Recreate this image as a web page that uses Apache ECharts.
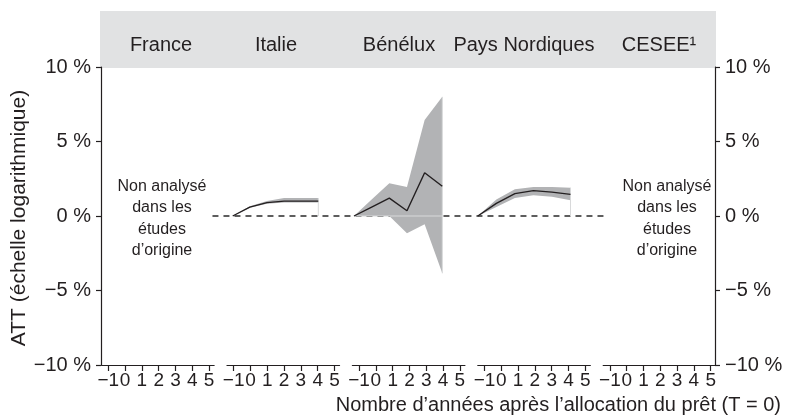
<!DOCTYPE html>
<html>
<head>
<meta charset="utf-8">
<script src="https://cdn.jsdelivr.net/npm/echarts@6/dist/echarts.min.js"></script>
<style>
  html, body { margin: 0; padding: 0; background: #ffffff; }
  #chart { width: 786px; height: 419px; }
</style>
</head>
<body>
<div id="chart"></div>
<script>
// ---- Data -------------------------------------------------------------
const panelNames = ['France', 'Italie', 'Bénélux', 'Pays Nordiques', 'CESEE¹'];
const tickYears = [-1, 0, 1, 2, 3, 4, 5];
const yTicks = [-10, -5, 0, 5, 10];
const years = [-1, 0, 1, 2, 3, 4];

// ATT estimates (%) with confidence band
const italieMean  = [0, 0.6, 0.9, 1.0, 1.0, 1.0];
const italieUpper = [0, 0.65, 1.0, 1.2, 1.2, 1.2];
const italieLower = [0, 0.55, 0.82, 0.9, 0.9, 0.9];

const beneluxMean  = [0, 0.6, 1.2, 0.35, 2.9, 2.0];
const beneluxUpper = [0, 1.1, 2.2, 1.95, 6.45, 8.0];
const beneluxLower = [0, 0, 0, -1.15, -0.55, -3.85];

const nordicMean  = [0, 0.85, 1.5, 1.7, 1.6, 1.45];
const nordicUpper = [0, 1.1, 1.8, 1.95, 1.95, 1.9];
const nordicLower = [0, 0.6, 1.2, 1.4, 1.3, 1.05];

// dashed reference line at 0 %, endpoints as [panel, year]
const zeroLineSpan = [[0, 5.2], [4, -1.3]];

const notAnalysed = 'Non analysé\ndans les\nétudes\nd’origine';
const xTitle = 'Nombre d’années après l’allocation du prêt (T = 0)';
const yTitle = 'ATT (échelle logarithmique)';

// ---- Layout & style ---------------------------------------------------
const FONT = "'Liberation Sans', Arial, Helvetica, sans-serif";
const INK = '#231f20';
const BAND = '#b2b3b5';
const HEADER = '#e1e2e3';
const SEAM = '#d8d9da';

const UNIT = 16.8;          // px per year on the tick axes
const STEP = 125.4;         // px between consecutive panels
const X0 = 108.3;           // px of year -1 in the first panel
const PANEL_MIN = -1.4, PANEL_MAX = 5.3;
const TOP = 67, BOTTOM = 54;
const FRAME_LEFT = 101, FRAME_RIGHT = 715;

const panelLeft = i => X0 - (-1 - PANEL_MIN) * UNIT + i * STEP;
const panelWidth = (PANEL_MAX - PANEL_MIN) * UNIT;

// each estimated panel: its series and the horizontal placement of its points
const estimated = [
  { panel: 1, mean: italieMean,  upper: italieUpper,  lower: italieLower,  firstPx: 232.7, pxPerYear: 17.12 },
  { panel: 2, mean: beneluxMean, upper: beneluxUpper, lower: beneluxLower, firstPx: 354.0, pxPerYear: 17.66 },
  { panel: 3, mean: nordicMean,  upper: nordicUpper,  lower: nordicLower,  firstPx: 477.8, pxPerYear: 18.54 }
];

const pct = v => (v < 0 ? '−' + Math.abs(v) : String(v)) + ' %';
const yearLabel = v => (v < 0 ? '−' + Math.abs(v) : String(v));

// ---- Grids ------------------------------------------------------------
const grids = [];
for (let i = 0; i < 5; i++) {
  grids.push({ left: panelLeft(i), width: panelWidth, top: TOP, bottom: BOTTOM,
               containLabel: false, outerBoundsMode: 'none' });
}
grids.push({ left: FRAME_LEFT, right: 786 - FRAME_RIGHT, top: TOP, bottom: BOTTOM,
             containLabel: false, outerBoundsMode: 'none' });
const FRAME = 5;

// ---- Axes -------------------------------------------------------------
const xAxes = [];
const yAxes = [];
for (let i = 0; i < 5; i++) {
  xAxes.push({
    type: 'value', gridIndex: i, min: PANEL_MIN, max: PANEL_MAX, position: 'bottom',
    axisLine: { show: true, onZero: false, lineStyle: { color: INK, width: 1.2 } },
    axisTick: { show: true, customValues: tickYears, length: 6, lineStyle: { color: INK, width: 1.2 } },
    axisLabel: { show: true, customValues: tickYears, formatter: yearLabel, margin: 6,
                 color: INK, fontSize: 19, fontFamily: FONT },
    splitLine: { show: false }
  });
  yAxes.push({ type: 'value', gridIndex: i, min: -10, max: 10, show: false });
}
// point-placement axes for the estimated panels
estimated.forEach(e => {
  const min = -1 - (e.firstPx - panelLeft(e.panel)) / e.pxPerYear;
  e.xAxisIndex = xAxes.length;
  xAxes.push({ type: 'value', gridIndex: e.panel, show: false,
               min: min, max: min + panelWidth / e.pxPerYear });
});
// frame-wide axis, in years counted from the first panel
const frameMin = -1 - (X0 - FRAME_LEFT) / UNIT;
const FRAME_X = xAxes.length;
xAxes.push({ type: 'value', gridIndex: FRAME, show: false,
             min: frameMin, max: frameMin + (FRAME_RIGHT - FRAME_LEFT) / UNIT });

const yAxisStyle = side => ({
  type: 'value', gridIndex: FRAME, min: -10, max: 10, interval: 5, position: side,
  axisLine: { show: true, onZero: false, lineStyle: { color: INK, width: 1.2 } },
  axisTick: { show: true, length: 5, lineStyle: { color: INK, width: 1.2 } },
  axisLabel: { show: true, formatter: pct, margin: 10, color: INK, fontSize: 20, fontFamily: FONT },
  splitLine: { show: false }
});
const LEFT_Y = yAxes.length;
yAxes.push(yAxisStyle('left'));
yAxes.push(yAxisStyle('right'));

// ---- Series -----------------------------------------------------------
const series = [];
series.push({
  type: 'line', xAxisIndex: FRAME_X, yAxisIndex: LEFT_Y, z: 1, silent: true,
  data: zeroLineSpan.map(([p, t]) => [p * STEP / UNIT + t, 0]),
  symbol: 'none', lineStyle: { color: '#2a2a2a', width: 1.5, type: [6, 5] }
});

estimated.forEach(e => {
  // confidence band
  series.push({
    type: 'custom', xAxisIndex: e.xAxisIndex, yAxisIndex: e.panel, z: 2, silent: true,
    data: [[years[0], 0]],
    renderItem: (params, api) => {
      const top = years.map((t, k) => api.coord([t, e.upper[k]]));
      const bot = years.map((t, k) => api.coord([t, e.lower[k]])).reverse();
      return { type: 'polygon', shape: { points: top.concat(bot) }, style: { fill: BAND } };
    }
  });
  // faint edges of the band
  series.push({
    type: 'custom', xAxisIndex: e.xAxisIndex, yAxisIndex: e.panel, z: 3, silent: true,
    data: [[years[0], 0]],
    renderItem: (params, api) => {
      const n = years.length - 1;
      const last = years[n];
      const lo = Math.min(0, e.lower[n]);
      const hi = Math.max(0, e.upper[n]);
      const a = api.coord([last, lo]);
      const b = api.coord([last, hi]);
      const children = [{ type: 'line', shape: { x1: a[0], y1: a[1], x2: b[0], y2: b[1] },
                          style: { stroke: SEAM, lineWidth: 1 } }];
      if (Math.min.apply(null, e.lower) < 0) {
        const p = api.coord([years[0], 0]);
        const q = api.coord([last, 0]);
        children.push({ type: 'line', shape: { x1: p[0], y1: p[1], x2: q[0], y2: q[1] },
                        style: { stroke: SEAM, lineWidth: 1 } });
      }
      return { type: 'group', children: children };
    }
  });
  // point estimate
  series.push({
    type: 'line', xAxisIndex: e.xAxisIndex, yAxisIndex: e.panel, z: 5, silent: true,
    data: years.map((t, k) => [t, e.mean[k]]),
    symbol: 'none', clip: false, lineStyle: { color: INK, width: 1.4 }
  });
});

// ---- Text & header ----------------------------------------------------
const titleCenters = [161, 276, 399, 524, 659];
const textEl = (x, y, text, size, align, extra) => Object.assign({
  type: 'text', x: x, y: y, silent: true,
  style: { text: text, fill: INK, font: size + 'px ' + FONT,
           align: align, textAlign: align, verticalAlign: 'middle', textVerticalAlign: 'middle' }
}, extra || {});

const graphic = [
  { type: 'rect', silent: true, z: -1, shape: { x: 100, y: 11, width: 616, height: 57 }, style: { fill: HEADER } }
];
panelNames.forEach((name, i) => graphic.push(textEl(titleCenters[i], 45, name, 20, 'center')));
[162, 667].forEach(cx => {
  const el = textEl(cx, 218.5, notAnalysed, 16, 'center');
  el.style.lineHeight = 21.5;
  graphic.push(el);
});
graphic.push(textEl(781, 405, xTitle, 20, 'right'));
graphic.push(textEl(19, 218, yTitle, 21, 'center', { rotation: Math.PI / 2 }));

const chart = echarts.init(document.getElementById('chart'), null, { renderer: 'canvas' });
chart.setOption({
  animation: false,
  backgroundColor: '#ffffff',
  grid: grids,
  xAxis: xAxes,
  yAxis: yAxes,
  series: series,
  graphic: graphic
});
</script>
</body>
</html>
